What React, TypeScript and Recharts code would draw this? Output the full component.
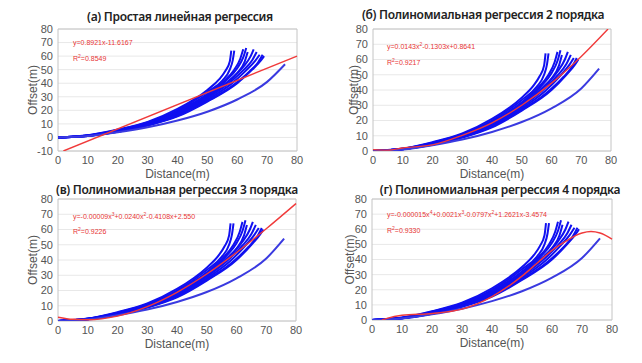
import { LineChart, Line, XAxis, YAxis, CartesianGrid, ReferenceArea } from 'recharts';

// shared axes
const distanceTicks = [0, 10, 20, 30, 40, 50, 60, 70, 80];
const offsetTicksWide = [-10, 0, 10, 20, 30, 40, 50, 60, 70, 80];
const offsetTicks = [0, 10, 20, 30, 40, 50, 60, 70, 80];

// measured vehicle tracks [distance, offset]
const track01 = [[0, 0], [10, 1.6], [20, 5.8], [30, 11.5], [40, 21], [50, 35], [54, 43], [56, 49], [57.5, 56], [58, 64]];
const track02 = [[0, 0], [10, 1.5], [20, 5.5], [30, 11], [40, 20], [50, 33.5], [55, 42], [57.5, 50], [58.5, 57], [59, 64]];
const track03 = [[0, 0], [10, 1.4], [20, 5.2], [30, 10.7], [40, 19.3], [50, 32], [55, 40.5], [59, 50], [61, 58], [62, 65]];
const track04 = [[0, 0], [10, 1.4], [20, 5], [30, 10.4], [40, 18.7], [50, 31], [56, 41.5], [60, 51], [62, 59], [63, 66]];
const track05 = [[0, 0], [10, 1.3], [20, 4.8], [30, 10], [40, 18], [50, 30], [56, 39.5], [60, 47.5], [62.5, 56], [63.5, 63]];
const track06 = [[0, 0], [10, 1.3], [20, 4.7], [30, 9.8], [40, 17.5], [50, 29.5], [57, 41.5], [62, 52], [64.5, 60], [65.5, 65]];
const track07 = [[0, 0], [10, 1.2], [20, 4.5], [30, 9.5], [40, 17], [50, 29], [58, 41.5], [62, 49.5], [65, 57], [66.5, 63]];
const track08 = [[0, 0], [10, 1.2], [20, 4.4], [30, 9.3], [40, 16.5], [50, 28], [58, 39.5], [63, 49.5], [66, 56.5], [67.5, 61]];
const track09 = [[0, 0], [10, 1.1], [20, 4.2], [30, 9], [40, 16], [50, 27], [58, 37.5], [64, 48.5], [67, 55.5], [68.5, 61]];
const track10 = [[0, 0], [10, 1.1], [20, 4.1], [30, 8.8], [40, 15.5], [50, 26.5], [60, 40], [65, 50], [68, 57], [69, 60]];
const track11 = [[0, 0], [10, 1], [20, 3.8], [30, 7.5], [40, 12.5], [50, 19], [60, 28], [70, 41], [76, 54]];

const blueTracks = [track01, track02, track03, track04, track05, track06, track07, track08, track09, track10, track11];

// fitted curves
const linearFit = [[1.8, -10], [80, 60]];
const quadraticFit = [[0, 0.9], [5, 0.6], [10, 2], [20, 4], [30, 10.3], [40, 18.5], [50, 30], [60, 44.5], [70, 62], [79, 80]];
const cubicFit = [[0, 2.5], [5, 1.1], [10, 0.8], [20, 3.2], [30, 9.4], [40, 18.8], [50, 30.8], [60, 44.9], [70, 60.5], [80, 77]];
const quarticFit = [[3.3, 0], [5, 1.1], [10, 3.1], [20, 4.3], [30, 7.2], [40, 15.5], [50, 29], [55, 37.5], [60, 46], [65, 52.5], [68, 56], [70, 57.5], [73, 58.5], [76, 57.5], [80, 53.5]];

const toPoints = (pts: number[][]) => pts.map(([x, y]) => ({ x, y }));

const tickStyle = { fontSize: 11, fill: '#555', fontFamily: 'Liberation Sans, Arial, sans-serif' };
const labelStyle = { fontSize: 12, fill: '#555', fontFamily: 'Liberation Sans, Arial, sans-serif' };

type PanelProps = {
    left: number;
    top: number;
    height: number;
    margin: { top: number; right: number; bottom: number; left: number };
    yWidth: number;
    yMin: number;
    yTicks: number[];
    fit: number[][];
    yLabelOffset: number;
};

function Panel({ left, top, height, margin, yWidth, yMin, yTicks, fit, yLabelOffset }: PanelProps) {
    return (
        <div style={{ position: 'absolute', left, top }}>
            <LineChart width={321} height={height} margin={margin}>
                <CartesianGrid vertical={false} stroke="#e8e8e8" />
                <XAxis
                    type="number"
                    dataKey="x"
                    domain={[0, 80]}
                    ticks={distanceTicks}
                    interval={0}
                    tick={tickStyle}
                    tickLine={false}
                    tickSize={4}
                    tickMargin={1}
                    axisLine={false}
                    height={29}
                    label={{ value: 'Distance(m)', position: 'insideBottom', offset: 2, style: labelStyle }}
                />
                <YAxis
                    type="number"
                    dataKey="y"
                    domain={[yMin, 80]}
                    ticks={yTicks}
                    interval={0}
                    tick={tickStyle}
                    tickLine={false}
                    tickSize={3}
                    tickMargin={2}
                    axisLine={false}
                    width={yWidth}
                    allowDataOverflow
                    label={{ value: 'Offset(m)', angle: -90, position: 'insideLeft', offset: yLabelOffset, style: { ...labelStyle, textAnchor: 'middle' } }}
                />
                <ReferenceArea x1={0} x2={80} y1={yMin} y2={80} fill="none" stroke="#c4c4c4" />
                {blueTracks.map((t, i) => (
                    <Line
                        key={i}
                        data={toPoints(t)}
                        dataKey="y"
                        type="monotone"
                        stroke={i === blueTracks.length - 1 ? '#3a3ae0' : '#1010f0'}
                        strokeWidth={2}
                        dot={false}
                        isAnimationActive={false}
                    />
                ))}
                <Line data={toPoints(fit)} dataKey="y" type="monotone" stroke="#f03a3a" strokeWidth={1.4} dot={false} isAnimationActive={false} />
            </LineChart>
        </div>
    );
}

const titleStyle = {
    position: 'absolute' as const,
    width: 320,
    textAlign: 'center' as const,
    fontSize: 12,
    fontWeight: 600,
    letterSpacing: -0.3,
    color: '#222',
    lineHeight: '12px',
    fontFamily: 'Noto Sans, sans-serif',
};

const eqStyle = {
    position: 'absolute' as const,
    fontSize: 7,
    color: '#e83535',
    lineHeight: '9px',
    whiteSpace: 'nowrap' as const,
    fontFamily: 'Liberation Sans, Arial, sans-serif',
};

export default function App() {
    return (
        <div style={{ position: 'absolute', left: 0, top: 0, width: 642, height: 363, background: '#fff', overflow: 'hidden' }}>
            <Panel left={0} top={0} height={184} margin={{ top: 29, right: 24, bottom: 4, left: 0 }} yWidth={58} yMin={-10} yTicks={offsetTicksWide} fit={linearFit} yLabelOffset={33} />
            <Panel left={321} top={0} height={184} margin={{ top: 29, right: 31, bottom: 4, left: 0 }} yWidth={52} yMin={0} yTicks={offsetTicks} fit={quadraticFit} yLabelOffset={33} />
            <Panel left={0} top={180} height={183} margin={{ top: 19, right: 25, bottom: 13, left: 0 }} yWidth={58} yMin={0} yTicks={offsetTicks} fit={cubicFit} yLabelOffset={33} />
            <Panel left={321} top={180} height={183} margin={{ top: 19, right: 30, bottom: 14, left: 0 }} yWidth={51} yMin={0} yTicks={offsetTicks} fit={quarticFit} yLabelOffset={29} />

            <div style={{ ...titleStyle, left: 20, top: 11 }}>(a) Простая линейная регрессия</div>
            <div style={{ ...titleStyle, left: 323, top: 9 }}>(б) Полиномиальная регрессия 2 порядка</div>
            <div style={{ ...titleStyle, left: 17, top: 184 }}>(в) Полиномиальная регрессия 3 порядка</div>
            <div style={{ ...titleStyle, left: 340, top: 184 }}>(г) Полиномиальная регрессия 4 порядка</div>

            <div style={{ ...eqStyle, left: 73, top: 38 }}>y=0.8921x-11.6167</div>
            <div style={{ ...eqStyle, left: 73, top: 52 }}>R<sup style={{ fontSize: 5 }}>2</sup>=0.8549</div>
            <div style={{ ...eqStyle, left: 387, top: 40 }}>y=0.0143x<sup style={{ fontSize: 5 }}>2</sup>-0.1303x+0.8641</div>
            <div style={{ ...eqStyle, left: 387, top: 56 }}>R<sup style={{ fontSize: 5 }}>2</sup>=0.9217</div>
            <div style={{ ...eqStyle, left: 73, top: 210 }}>y=-0.00009x<sup style={{ fontSize: 5 }}>3</sup>+0.0240x<sup style={{ fontSize: 5 }}>2</sup>-0.4108x+2.550</div>
            <div style={{ ...eqStyle, left: 73, top: 225 }}>R<sup style={{ fontSize: 5 }}>2</sup>=0.9226</div>
            <div style={{ ...eqStyle, left: 387, top: 208 }}>y=-0.000015x<sup style={{ fontSize: 5 }}>4</sup>+0.0021x<sup style={{ fontSize: 5 }}>3</sup>-0.0797x<sup style={{ fontSize: 5 }}>2</sup>+1.2621x-3.4574</div>
            <div style={{ ...eqStyle, left: 73 + 314, top: 224 }}>R<sup style={{ fontSize: 5 }}>2</sup>=0.9330</div>
        </div>
    );
}
